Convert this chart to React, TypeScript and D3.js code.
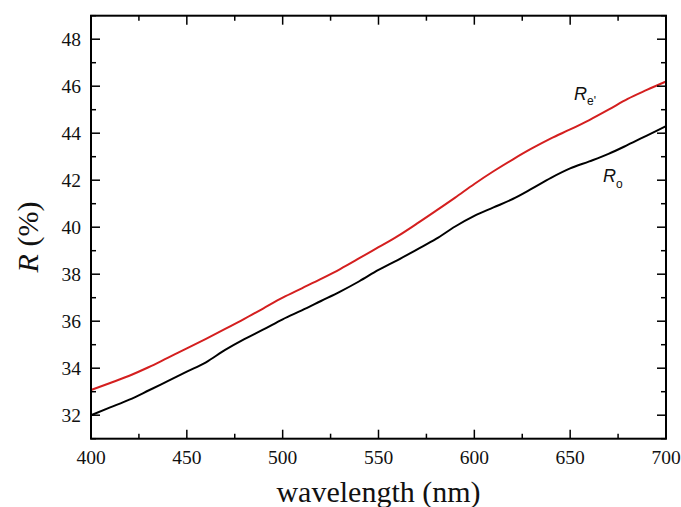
import React from "react";
import * as d3 from "d3";

const wavelengths = [400,410,420,430,440,450,460,470,480,490,500,510,520,530,540,550,560,570,580,590,600,610,620,630,640,650,660,670,680,690,700];
const reValues = [33.07,33.37,33.68,34.04,34.44,34.84,35.25,35.67,36.1,36.55,37.0,37.4,37.8,38.22,38.68,39.15,39.62,40.15,40.7,41.26,41.84,42.38,42.88,43.35,43.78,44.16,44.56,45.0,45.46,45.84,46.2];
const roValues = [32.0,32.33,32.66,33.05,33.45,33.85,34.25,34.78,35.24,35.65,36.08,36.46,36.86,37.26,37.7,38.18,38.6,39.05,39.5,40.03,40.48,40.84,41.2,41.64,42.1,42.5,42.8,43.12,43.5,43.9,44.3];
const xTicks = [400,450,500,550,600,650,700];
const xMinor = [425,475,525,575,625,675];
const yTicks = [32,34,36,38,40,42,44,46,48];
const yMinor = [31,33,35,37,39,41,43,45,47,49];

const W = 681, H = 507;
const L = 91, R = 666, T = 15.7, B = 438.7;

export default function App() {
  const x = d3.scaleLinear().domain([400, 700]).range([L, R]);
  const y = d3.scaleLinear().domain([31, 49]).range([B, T]);
  const line = d3.line<number>().x((_, i) => x(wavelengths[i])).y((d) => y(d)).curve(d3.curveMonotoneX);
  const serif = "'Liberation Serif', 'Times New Roman', serif";
  const sans = "'Liberation Sans', Arial, sans-serif";
  const major = 9, minor = 5;
  return (
    <svg width={W} height={H} style={{ position: "absolute", left: 0, top: 0, background: "#fff" }}>
      <rect x={0} y={0} width={W} height={H} fill="#fff" />
      <path d={line(roValues) || ""} fill="none" stroke="#000" strokeWidth={2} />
      <path d={line(reValues) || ""} fill="none" stroke="#d41f1f" strokeWidth={2} />
      <rect x={L} y={T} width={R - L} height={B - T} fill="none" stroke="#000" strokeWidth={2} />
      {xTicks.map((t) => (
        <g key={"xt" + t}>
          <line x1={x(t)} x2={x(t)} y1={B} y2={B - major} stroke="#000" strokeWidth={1.5} />
          <line x1={x(t)} x2={x(t)} y1={T} y2={T + major} stroke="#000" strokeWidth={1.5} />
          <text x={x(t)} y={464} textAnchor="middle" fontFamily={serif} fontSize={19.5} fill="#111">{t}</text>
        </g>
      ))}
      {xMinor.map((t) => (
        <g key={"xm" + t}>
          <line x1={x(t)} x2={x(t)} y1={B} y2={B - minor} stroke="#000" strokeWidth={1.5} />
          <line x1={x(t)} x2={x(t)} y1={T} y2={T + minor} stroke="#000" strokeWidth={1.5} />
        </g>
      ))}
      {yTicks.map((t) => (
        <g key={"yt" + t}>
          <line x1={L} x2={L + major} y1={y(t)} y2={y(t)} stroke="#000" strokeWidth={1.5} />
          <line x1={R} x2={R - major} y1={y(t)} y2={y(t)} stroke="#000" strokeWidth={1.5} />
          <text x={81} y={y(t) + 6.6} textAnchor="end" fontFamily={serif} fontSize={19.5} fill="#111">{t}</text>
        </g>
      ))}
      {yMinor.map((t) => (
        <g key={"ym" + t}>
          <line x1={L} x2={L + minor} y1={y(t)} y2={y(t)} stroke="#000" strokeWidth={1.5} />
          <line x1={R} x2={R - minor} y1={y(t)} y2={y(t)} stroke="#000" strokeWidth={1.5} />
        </g>
      ))}
      <text x={(L + R) / 2} y={502} textAnchor="middle" fontFamily={serif} fontSize={30} fill="#111">wavelength (nm)</text>
      <text transform="translate(38,237) rotate(-90)" textAnchor="middle" fontFamily={serif} fontSize={30} fill="#111">
        <tspan fontStyle="italic">R</tspan> (%)
      </text>
      <text x={574} y={99.5} fontFamily={sans} fontSize={18} fontStyle="italic" fill="#111">
        R<tspan fontSize={12} fontStyle="normal" dy={5}>e'</tspan>
      </text>
      <text x={603} y={182} fontFamily={sans} fontSize={18} fontStyle="italic" fill="#111">
        R<tspan fontSize={12} fontStyle="normal" dy={6}>o</tspan>
      </text>
    </svg>
  );
}
